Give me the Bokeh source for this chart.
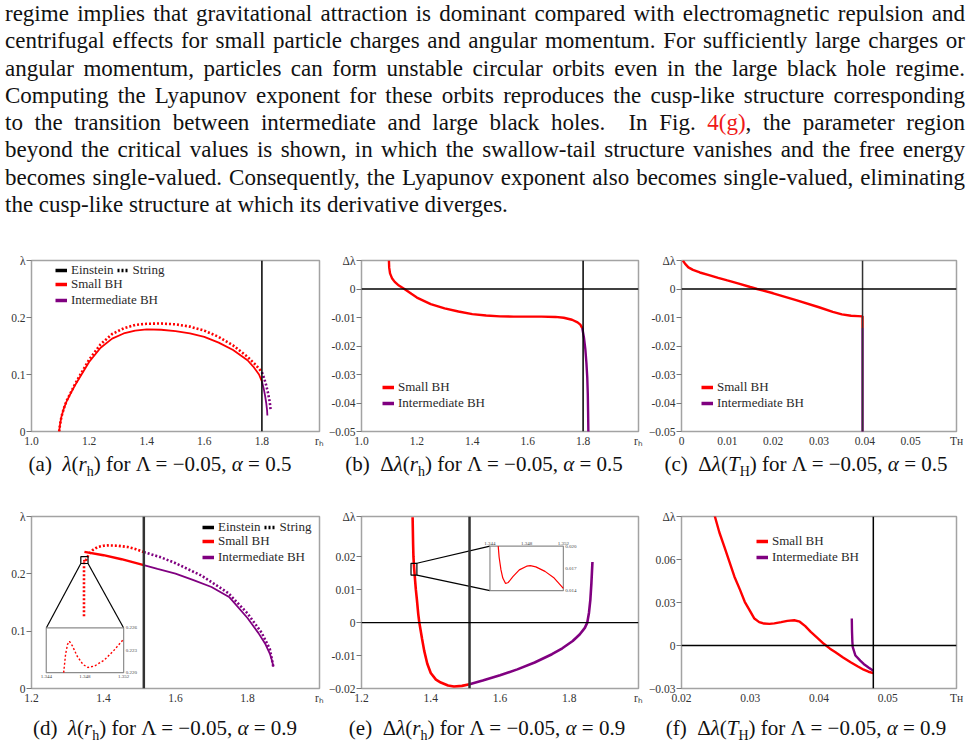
from bokeh.plotting import figure
from bokeh.models import Range1d, FixedTicker, Span, Legend, LegendItem, Div
from bokeh.layouts import column, row
from bokeh.core.properties import value
from bokeh.embed import file_html
from bokeh.resources import INLINE

NAN = float("nan")

# ------------------------------------------------------------------ data
# (a) lambda(r_h), Lambda=-0.05, alpha=0.5
A_EIN_SMALL_R = [1.096, 1.099, 1.104, 1.112, 1.122, 1.136, 1.15, 1.17, 1.20, 1.24, 1.28, 1.32, 1.36, 1.40,
                 1.45, 1.50, 1.55, 1.60, 1.65, 1.70, 1.75, 1.77, 1.79, 1.80]
A_EIN_SMALL_L = [0.0, 0.012, 0.026, 0.040, 0.053, 0.067, 0.080, 0.097, 0.122, 0.147, 0.163, 0.172, 0.177, 0.179,
                 0.1785, 0.176, 0.172, 0.166, 0.156, 0.143, 0.125, 0.114, 0.100, 0.088]
A_EIN_INT_R = [1.80, 1.806, 1.811, 1.815, 1.818, 1.819]
A_EIN_INT_L = [0.088, 0.076, 0.063, 0.050, 0.037, 0.028]
A_STR_SMALL_R = [1.096, 1.099, 1.104, 1.112, 1.122, 1.136, 1.15, 1.17, 1.20, 1.24, 1.28, 1.32, 1.36, 1.40,
                 1.45, 1.50, 1.55, 1.60, 1.65, 1.70, 1.75, 1.78, 1.80]
A_STR_SMALL_L = [0.0, 0.012, 0.026, 0.040, 0.054, 0.068, 0.082, 0.100, 0.126, 0.153, 0.171, 0.181, 0.187, 0.189,
                 0.1895, 0.188, 0.184, 0.177, 0.166, 0.151, 0.131, 0.116, 0.104]
A_STR_INT_R = [1.80, 1.808, 1.815, 1.821, 1.826, 1.829, 1.830]
A_STR_INT_L = [0.104, 0.093, 0.081, 0.068, 0.055, 0.045, 0.038]
A_CRIT_R = 1.8

# (b) Delta lambda(r_h), Lambda=-0.05, alpha=0.5
B_SMALL_R = [1.099, 1.100, 1.103, 1.11, 1.12, 1.135, 1.155, 1.18, 1.20, 1.25, 1.30, 1.35, 1.40, 1.45, 1.50,
             1.55, 1.60, 1.65, 1.70, 1.73, 1.76, 1.78, 1.79, 1.797]
B_SMALL_D = [0.010, 0.0075, 0.0055, 0.0038, 0.0025, 0.0012, 0.0, -0.0017, -0.003, -0.0053, -0.0068, -0.0079,
             -0.0088, -0.0093, -0.0096, -0.0097, -0.0097, -0.0097, -0.0098, -0.0101, -0.0108, -0.0117, -0.0125,
             -0.0137]
B_INT_R = [1.797, 1.803, 1.808, 1.812, 1.815, 1.817, 1.818, 1.819, 1.8195]
B_INT_D = [-0.0137, -0.017, -0.021, -0.026, -0.031, -0.037, -0.043, -0.05, -0.055]
B_CRIT_R = 1.8

# (c) Delta lambda(T_H), Lambda=-0.05, alpha=0.5
C_SMALL_T = [0.0003, 0.0008, 0.0015, 0.0025, 0.004, 0.006, 0.008, 0.010, 0.0125, 0.015, 0.0165, 0.020, 0.025,
             0.030, 0.033, 0.035, 0.037, 0.0385, 0.0395, 0.0395]
C_SMALL_D = [0.0100, 0.0088, 0.0076, 0.0067, 0.0058, 0.0049, 0.0039, 0.0030, 0.0019, 0.0007, 0.0, -0.0015,
             -0.0039, -0.0064, -0.0080, -0.0089, -0.0094, -0.0095, -0.0096, -0.0137]
C_INT_T = [0.0395, 0.0395]
C_INT_D = [-0.0137, -0.055]
C_CRIT_T = 0.0395

# (d) lambda(r_h), Lambda=-0.05, alpha=0.9
D_EIN_SMALL_R = [1.347, 1.40, 1.45, 1.512]
D_EIN_SMALL_L = [0.2383, 0.2325, 0.2255, 0.2152]
D_EIN_INT_R = [1.512, 1.55, 1.60, 1.65, 1.70, 1.75, 1.80, 1.83, 1.85, 1.862, 1.868, 1.872]
D_EIN_INT_L = [0.2152, 0.2085, 0.2005, 0.189, 0.177, 0.159, 0.123, 0.097, 0.077, 0.061, 0.049, 0.038]
D_STR_SMALL_R = [1.3458, 1.3458, 1.3458, 1.3459, 1.3460, 1.3464, 1.3470, 1.3482, 1.3495, 1.351, 1.352, 1.355,
                 1.36, 1.37, 1.384, 1.40, 1.412, 1.44, 1.467, 1.49, 1.512]
D_STR_SMALL_L = [0.126, 0.150, 0.180, 0.210, 0.220, 0.2242, 0.2230, 0.2207, 0.2215, 0.2232, 0.2245, 0.229,
                 0.235, 0.2415, 0.2468, 0.249, 0.2496, 0.249, 0.2468, 0.243, 0.238]
D_STR_INT_R = [1.512, 1.56, 1.60, 1.672, 1.746, 1.80, 1.839, 1.862, 1.872]
D_STR_INT_L = [0.238, 0.2287, 0.2186, 0.197, 0.1668, 0.131, 0.0975, 0.069, 0.037]
D_CRIT_R = 1.512
# inset of (d)
D_INSET_R = [1.3458, 1.3460, 1.3462, 1.3464, 1.3467, 1.3472, 1.3478, 1.3483, 1.3490, 1.3500, 1.3510, 1.3520]
D_INSET_L = [0.2200, 0.2225, 0.2238, 0.2242, 0.2236, 0.2222, 0.2211, 0.2207, 0.2209, 0.2217, 0.2230, 0.2245]
D_INSET_XTICKS = [1.344, 1.348, 1.352]
D_INSET_XLABELS = ["1.344", "1.348", "1.352"]
D_INSET_YTICKS = [0.220, 0.223, 0.226]
D_INSET_YLABELS = ["0.220", "0.223", "0.226"]

# (e) Delta lambda(r_h), Lambda=-0.05, alpha=0.9
E_SMALL_R = [1.3476, 1.349, 1.350, 1.352, 1.354, 1.357, 1.360, 1.364, 1.367, 1.375, 1.381, 1.390, 1.40, 1.415,
             1.429, 1.45, 1.467, 1.49, 1.512]
E_SMALL_D = [0.032, 0.024, 0.020, 0.0165, 0.0138, 0.010, 0.007, 0.0025, 0.0, -0.005, -0.0085, -0.0125, -0.0153,
             -0.0173, -0.0182, -0.0191, -0.0194, -0.0192, -0.0187]
E_INT_R = [1.512, 1.55, 1.60, 1.65, 1.70, 1.75, 1.78, 1.81, 1.83, 1.845, 1.852, 1.857, 1.861, 1.864, 1.867]
E_INT_D = [-0.0187, -0.0176, -0.016, -0.0142, -0.0121, -0.0096, -0.0078, -0.0056, -0.0036, -0.0016, 0.0, 0.003,
           0.007, 0.012, 0.0184]
E_CRIT_R = 1.512
# inset of (e)
E_INSET_R = [1.3449, 1.3450, 1.3452, 1.3454, 1.3457, 1.3460, 1.3465, 1.3472, 1.3480, 1.3484, 1.3490, 1.3500,
             1.3510, 1.3520]
E_INSET_D = [0.0200, 0.0185, 0.0168, 0.0157, 0.01496, 0.0151, 0.0159, 0.0168, 0.0173, 0.01737, 0.0172, 0.0166,
             0.0157, 0.0143]
E_INSET_XTICKS = [1.344, 1.348, 1.352]
E_INSET_XLABELS = ["1.344", "1.348", "1.352"]
E_INSET_YTICKS = [0.014, 0.017, 0.020]
E_INSET_YLABELS = ["0.014", "0.017", "0.020"]

# (f) Delta lambda(T_H), Lambda=-0.05, alpha=0.9
F_SMALL_T = [0.0248, 0.0255, 0.0263, 0.0270, 0.0277, 0.0285, 0.0292, 0.0300, 0.0306, 0.0313, 0.0320, 0.0328,
             0.0335, 0.0345, 0.0354, 0.0364, 0.0372, 0.0380, 0.0388, 0.0398, 0.0407, 0.0416, 0.0424, 0.0435,
             0.0446, 0.0456, 0.0465, 0.0472, 0.0479]
F_SMALL_D = [0.091, 0.079, 0.068, 0.058, 0.048, 0.039, 0.0305, 0.0238, 0.0188, 0.0163, 0.0153, 0.0151, 0.0154,
             0.0163, 0.0172, 0.0176, 0.0166, 0.0135, 0.0095, 0.0052, 0.0012, -0.0022, -0.0047, -0.0083, -0.0117,
             -0.0145, -0.0169, -0.0183, -0.0193]
F_INT_T = [0.04477, 0.04480, 0.04485, 0.0449, 0.0453, 0.0460, 0.0465, 0.0472, 0.0479]
F_INT_D = [0.0188, 0.010, 0.003, -0.001, -0.007, -0.0106, -0.0129, -0.0153, -0.0176]
F_CRIT_T = 0.0479

# tick marks
X_TICKS_R1 = [1.0, 1.2, 1.4, 1.6, 1.8]
X_LABELS_R1 = ["1.0", "1.2", "1.4", "1.6", "1.8"]
X_TICKS_R2 = [1.2, 1.4, 1.6, 1.8]
X_LABELS_R2 = ["1.2", "1.4", "1.6", "1.8"]
X_TICKS_T1 = [0.0, 0.01, 0.02, 0.03, 0.04, 0.05]
X_LABELS_T1 = ["0", "0.01", "0.02", "0.03", "0.04", "0.05"]
X_TICKS_T2 = [0.02, 0.03, 0.04, 0.05]
X_LABELS_T2 = ["0.02", "0.03", "0.04", "0.05"]
Y_TICKS_L = [0.0, 0.1, 0.2]
Y_LABELS_L = ["0", "0.1", "0.2"]
Y_TICKS_D1 = [0.0, -0.01, -0.02, -0.03, -0.04, -0.05]
Y_LABELS_D1 = ["0", "-0.01", "-0.02", "-0.03", "-0.04", "\u22120.05"]
Y_TICKS_E = [-0.02, -0.01, 0.0, 0.01, 0.02]
Y_LABELS_E = ["\u22120.02", "-0.01", "0", "0.01", "0.02"]
Y_TICKS_F = [-0.03, 0.0, 0.03, 0.06]
Y_LABELS_F = ["\u22120.03", "0", "0.03", "0.06"]

# axis names (drawn at the end of each axis)
NAME_LAMBDA = "\u03bb"
NAME_DLAMBDA = "\u0394\u03bb"
NAME_RH = "r\u2095"
NAME_TH = "T\u029c"

PARAGRAPH = [
    "regime implies that gravitational attraction is dominant compared with electromagnetic repulsion and",
    "centrifugal effects for small particle charges and angular momentum. For sufficiently large charges or",
    "angular momentum, particles can form unstable circular orbits even in the large black hole regime.",
    "Computing the Lyapunov exponent for these orbits reproduces the cusp-like structure corresponding",
    "to the transition between intermediate and large black holes.&nbsp; In Fig. <span style=\"color:#f01818\">4(g)</span>, the parameter region",
    "beyond the critical values is shown, in which the swallow-tail structure vanishes and the free energy",
    "becomes single-valued. Consequently, the Lyapunov exponent also becomes single-valued, eliminating",
    "the cusp-like structure at which its derivative diverges.",
]

# ------------------------------------------------------------------ styles
RED = "#ff0000"
PURPLE = "#800080"
FRAME = "#a3a3a3"
SERIF = "Liberation Serif"
TXT = "#2a2a2a"


def base_fig(w, h, bl, br, bt, bb, xr, yr, xt, xl, yt, yl, xname, yname):
    p = figure(width=w, height=h, x_range=Range1d(*xr), y_range=Range1d(*yr),
               output_backend="svg", toolbar_location=None,
               min_border_left=bl, min_border_right=br, min_border_top=bt, min_border_bottom=bb)
    p.grid.visible = False
    p.outline_line_color = FRAME
    p.outline_line_width = 1.5
    xt_all = list(xt) + [xr[1]]
    xl_all = list(xl) + [xname]
    yt_all = list(yt) + [yr[1]]
    yl_all = list(yl) + [yname]
    for ax, ticks, labels in ((p.xaxis[0], xt_all, xl_all), (p.yaxis[0], yt_all, yl_all)):
        ax.ticker = FixedTicker(ticks=ticks)
        ax.major_label_overrides = {t: l for t, l in zip(ticks, labels)}
        ax.major_label_text_font = SERIF
        ax.major_label_text_font_size = "11.5px"
        ax.major_label_text_color = "#333333"
        ax.axis_line_color = None
        ax.minor_tick_line_color = None
        ax.major_tick_line_color = "#777777"
    p.xaxis.major_tick_out = 0
    p.xaxis.major_tick_in = 0
    p.xaxis.major_label_standoff = 3
    p.yaxis.major_tick_out = 5
    p.yaxis.major_tick_in = 0
    p.yaxis.major_label_standoff = 1
    return p


def add_legends(p, with_models, loc_top, loc_bottom):
    common = dict(padding=0, margin=0, border_line_color=None, background_fill_alpha=0,
                  label_text_font=SERIF, label_text_font_size="13px", label_text_color=TXT,
                  label_standoff=4, glyph_width=12, glyph_height=12, label_height=12)
    r_small = p.line([NAN, NAN], [NAN, NAN], line_color=RED, line_width=3.5)
    r_int = p.line([NAN, NAN], [NAN, NAN], line_color=PURPLE, line_width=3.5)
    if with_models:
        r_e = p.line([NAN, NAN], [NAN, NAN], line_color="black", line_width=3.5)
        r_s = p.line([NAN, NAN], [NAN, NAN], line_color="black", line_width=3.5, line_dash="2 2")
        p.add_layout(Legend(items=[LegendItem(label="Einstein", renderers=[r_e]),
                                   LegendItem(label="String", renderers=[r_s])],
                            location=loc_top, orientation="horizontal", spacing=3, **common))
    p.add_layout(Legend(items=[LegendItem(label="Small BH", renderers=[r_small]),
                               LegendItem(label="Intermediate BH", renderers=[r_int])],
                        location=loc_bottom, orientation="vertical", spacing=0, **common))


def vline(p, loc, color="black", width=1.5):
    p.add_layout(Span(location=loc, dimension="height", line_color=color, line_width=width))


def hline(p, loc, color="black", width=1.3):
    p.add_layout(Span(location=loc, dimension="width", line_color=color, line_width=width))


def inset(p, xs, ys, target_x, target_y, box, cx, cy, xt, xl, yt, yl, xlab_below, dashed, link):
    bx0, bx1, by0, by1 = box
    p.quad(left=[bx0], right=[bx1], bottom=[by0], top=[by1], fill_alpha=0, line_color="black", line_width=1.2)
    tx0, tx1 = target_x
    ty0, ty1 = target_y
    if link == "below":
        p.segment(x0=[bx0, bx1], y0=[by0, by0], x1=[tx0, tx1], y1=[ty1, ty1], line_color="black", line_width=1.2)
    else:
        p.segment(x0=[bx1, bx1], y0=[by1, by0], x1=[tx0, tx0], y1=[ty1, ty0], line_color="black", line_width=1.2)
    sub = p.subplot(x_source=Range1d(xs[0], xs[1]), y_source=Range1d(ys[0], ys[1]),
                    x_target=Range1d(tx0, tx1), y_target=Range1d(ty0, ty1))
    sub.quad(left=[xs[0]], right=[xs[1]], bottom=[ys[0]], top=[ys[1]], fill_color="white",
             line_color="#8c8c8c", line_width=1.2)
    if dashed:
        sub.line(cx, cy, line_color=RED, line_width=1.4, line_dash="2 2")
    else:
        sub.line(cx, cy, line_color=RED, line_width=1.2)
    fnt = dict(text_font=value(SERIF), text_font_size="5px", text_color="#444444")
    if xlab_below:
        sub.text(x=xt, y=[ys[0]] * len(xt), text=xl, text_align="center", text_baseline="top", y_offset=2, **fnt)
    else:
        sub.text(x=xt, y=[ys[1]] * len(xt), text=xl, text_align="center", text_baseline="bottom", y_offset=-1, **fnt)
    sub.text(x=[xs[1]] * len(yt), y=yt, text=yl, text_align="left", text_baseline="middle", x_offset=2, **fnt)


# ------------------------------------------------------------------ (a)
pa = base_fig(325, 215, 31, 6, 13, 24, (1.0, 2.0), (0.0, 0.3), X_TICKS_R1, X_LABELS_R1, Y_TICKS_L, Y_LABELS_L,
              NAME_RH, NAME_LAMBDA)
pa.line(A_STR_SMALL_R, A_STR_SMALL_L, line_color=RED, line_width=2.6, line_dash="2 2")
pa.line(A_STR_INT_R, A_STR_INT_L, line_color=PURPLE, line_width=2.6, line_dash="2 2")
pa.line(A_EIN_SMALL_R, A_EIN_SMALL_L, line_color=RED, line_width=1.8)
pa.line(A_EIN_INT_R, A_EIN_INT_L, line_color=PURPLE, line_width=1.8)
vline(pa, A_CRIT_R)
add_legends(pa, True, (24, 153), (24, 123))

# ------------------------------------------------------------------ (b)
pb = base_fig(320, 215, 33, 7, 19, 24, (1.0, 2.0), (-0.05, 0.01), X_TICKS_R1, X_LABELS_R1, Y_TICKS_D1, Y_LABELS_D1,
              NAME_RH, NAME_DLAMBDA)
pb.line(B_SMALL_R, B_SMALL_D, line_color=RED, line_width=2.4)
pb.line(B_INT_R, B_INT_D, line_color=PURPLE, line_width=2.4)
vline(pb, B_CRIT_R)
hline(pb, 0.0)
add_legends(pb, False, None, (21, 20))

# ------------------------------------------------------------------ (c)
pc = base_fig(331, 215, 33, 20, 20, 24, (0.0, 0.06), (-0.05, 0.01), X_TICKS_T1, X_LABELS_T1, Y_TICKS_D1, Y_LABELS_D1,
              NAME_TH, NAME_DLAMBDA)
pc.line(C_SMALL_T, C_SMALL_D, line_color=RED, line_width=2.4)
pc.line(C_INT_T, C_INT_D, line_color=PURPLE, line_width=2.4)
vline(pc, C_CRIT_T, "#333333", 1.5)
hline(pc, 0.0)
add_legends(pc, False, None, (20, 20))

# ------------------------------------------------------------------ (d)
pd_ = base_fig(325, 217, 31, 6, 16, 24, (1.2, 2.0), (0.0, 0.3), X_TICKS_R2, X_LABELS_R2, Y_TICKS_L, Y_LABELS_L,
               NAME_RH, NAME_LAMBDA)
pd_.line(D_STR_SMALL_R, D_STR_SMALL_L, line_color=RED, line_width=2.6, line_dash="2 2")
pd_.line(D_STR_INT_R, D_STR_INT_L, line_color=PURPLE, line_width=2.6, line_dash="2 2")
pd_.line(D_EIN_SMALL_R, D_EIN_SMALL_L, line_color=RED, line_width=2.4)
pd_.line(D_EIN_INT_R, D_EIN_INT_L, line_color=PURPLE, line_width=1.8)
vline(pd_, D_CRIT_R, "#333333", 2.5)
inset(pd_, (1.344, 1.352), (0.220, 0.226), (1.241, 1.456), (0.0276, 0.1056),
      (1.337, 1.357, 0.218, 0.230), D_INSET_R, D_INSET_L,
      D_INSET_XTICKS, D_INSET_XLABELS, D_INSET_YTICKS, D_INSET_YLABELS, True, True, "below")
add_legends(pd_, True, (171, 153), (171, 123))

# ------------------------------------------------------------------ (e)
pe = base_fig(320, 217, 33, 7, 13, 24, (1.2, 2.0), (-0.02, 0.0322), X_TICKS_R2, X_LABELS_R2, Y_TICKS_E, Y_LABELS_E,
              NAME_RH, NAME_DLAMBDA)
pe.line(E_SMALL_R, E_SMALL_D, line_color=RED, line_width=2.6)
pe.line(E_INT_R, E_INT_D, line_color=PURPLE, line_width=2.6)
vline(pe, E_CRIT_R, "#333333", 2.5)
hline(pe, 0.0)
inset(pe, (1.344, 1.352), (0.014, 0.020), (1.571, 1.783), (0.0097, 0.0232),
      (1.343, 1.360, 0.0144, 0.0180), E_INSET_R, E_INSET_D,
      E_INSET_XTICKS, E_INSET_XLABELS, E_INSET_YTICKS, E_INSET_YLABELS, False, False, "side")

# ------------------------------------------------------------------ (f)
pf = base_fig(331, 217, 33, 20, 21, 24, (0.02, 0.06), (-0.03, 0.09), X_TICKS_T2, X_LABELS_T2, Y_TICKS_F, Y_LABELS_F,
              NAME_TH, NAME_DLAMBDA)
pf.line(F_SMALL_T, F_SMALL_D, line_color=RED, line_width=2.4)
pf.line(F_INT_T, F_INT_D, line_color=PURPLE, line_width=2.4)
vline(pf, F_CRIT_T)
hline(pf, 0.0)
add_legends(pf, False, None, (75, 123))

# ------------------------------------------------------------------ text blocks
line_divs = []
for i, ln in enumerate(PARAGRAPH):
    last = i == len(PARAGRAPH) - 1
    align = "text-align:left;" if last else "text-align:justify;text-align-last:justify;"
    line_divs.append(f'<div style="{align}white-space:nowrap;">{ln}</div>')
para_html = ('<div style="font-family:\'Liberation Serif\',serif;font-size:23px;line-height:27.3px;'
             'color:#111111;width:965px;padding-left:5px;">' + "".join(line_divs) + "</div>")
para = Div(text=para_html, width=976, height=240, margin=(0, 0, 0, 0))


def caption(tag, arg, argsub, alpha, width, height, pad_top, center):
    sub = f'<span style="font-size:14px;position:relative;top:5px;">{argsub}</span>'
    delta = "" if tag in ("a", "d") else "\u0394"
    html = (f'<div style="position:relative;width:{width}px;height:{height}px;">'
            f'<div style="position:absolute;left:{center - 160}px;top:{pad_top}px;width:320px;text-align:center;'
            f'font-family:\'Liberation Serif\',serif;font-size:21px;line-height:18px;color:#111111;white-space:nowrap;">'
            f'({tag})&nbsp;&nbsp;{delta}<i>\u03bb</i>(<i>{arg}</i>{sub}) for \u039b = \u22120.05, <i>\u03b1</i> = {alpha}'
            f'</div></div>')
    return Div(text=html, width=width, height=height, margin=(0, 0, 0, 0))


cap_a = caption("a", "r", "h", "0.5", 325, 40, 0, 160)
cap_b = caption("b", "r", "h", "0.5", 320, 40, 0, 159)
cap_c = caption("c", "T", "H", "0.5", 331, 40, 0, 161)
cap_d = caption("d", "r", "h", "0.9", 325, 32, 7, 165)
cap_e = caption("e", "r", "h", "0.9", 320, 32, 7, 162)
cap_f = caption("f", "T", "H", "0.9", 331, 32, 7, 161)

layout = column(
    para,
    row(pa, pb, pc, spacing=0),
    row(cap_a, cap_b, cap_c, spacing=0),
    row(pd_, pe, pf, spacing=0),
    row(cap_d, cap_e, cap_f, spacing=0),
    spacing=0,
)

open("out.html", "w").write(file_html(layout, INLINE))
